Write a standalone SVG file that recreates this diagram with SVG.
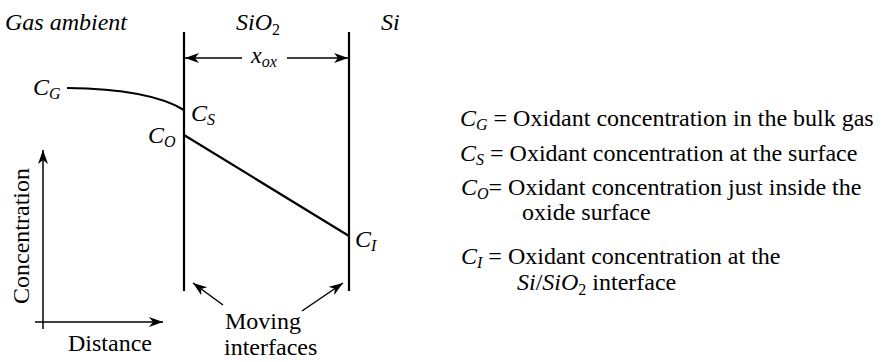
<svg xmlns="http://www.w3.org/2000/svg" width="891" height="362" viewBox="0 0 891 362">
<style>
text{font-family:"Liberation Serif","Times New Roman",serif;font-size:24px;fill:#000}
.i{font-style:italic}
.sub{font-size:16px}
.thick{stroke:#000;stroke-width:2.2;fill:none}
.thin{stroke:#000;stroke-width:1.5;fill:none}
</style>
<defs>
<marker id="ah" markerUnits="userSpaceOnUse" markerWidth="15" markerHeight="11" refX="14" refY="5" orient="auto">
<path d="M0,0 L14,5 L0,10 L4,5 z" fill="#000"/>
</marker>
</defs>
<rect width="891" height="362" fill="#fff"/>

<g id="labels-top">
<text class="i" x="5" y="30">Gas ambient</text>
<text x="236" y="30"><tspan class="i">SiO</tspan><tspan class="sub" dy="5">2</tspan></text>
<text class="i" x="381" y="30">Si</text>
</g>

<g id="interface-left"><line class="thick" x1="184" y1="32" x2="184" y2="291"/></g>
<g id="interface-right"><line class="thick" x1="349" y1="32" x2="349" y2="291"/></g>

<g id="profile">
<path class="thick" d="M67,88 Q150,89 184,110"/>
<line class="thick" x1="184" y1="135" x2="349" y2="236"/>
</g>

<g id="point-labels">
<text x="33" y="95"><tspan class="i">C</tspan><tspan class="i sub" dy="4">G</tspan></text>
<text x="191" y="121"><tspan class="i">C</tspan><tspan class="i sub" dy="4">S</tspan></text>
<text x="148" y="143"><tspan class="i">C</tspan><tspan class="i sub" dy="4">O</tspan></text>
<text x="355" y="247"><tspan class="i">C</tspan><tspan class="i sub" dy="4">I</tspan></text>
</g>

<g id="xox-label">
<text x="251" y="63"><tspan class="i">x</tspan><tspan class="i sub" dy="4">ox</tspan></text>
</g>

<g id="axes">
<text x="0" y="0" text-anchor="middle" transform="translate(29,236) rotate(-90)">Concentration</text>
<text x="68" y="351">Distance</text>
</g>

<g id="moving-label">
<text x="225" y="329">Moving</text>
<text x="224" y="355">interfaces</text>
</g>

<g id="connectors">
<line class="thin" x1="242" y1="58" x2="185" y2="58" marker-end="url(#ah)"/>
<line class="thin" x1="287" y1="58" x2="348" y2="58" marker-end="url(#ah)"/>
<line class="thin" x1="43" y1="329" x2="43" y2="150" marker-end="url(#ah)"/>
<line class="thin" x1="35" y1="322" x2="163" y2="322" marker-end="url(#ah)"/>
<line class="thin" x1="223" y1="305" x2="193" y2="283" marker-end="url(#ah)"/>
<line class="thin" x1="302" y1="311" x2="343" y2="283" marker-end="url(#ah)"/>
</g>

<g id="legend">
<g id="leg-cg"><text x="460" y="126"><tspan class="i">C</tspan><tspan class="i sub" dy="4">G</tspan><tspan dy="-4"> = Oxidant concentration in the bulk gas</tspan></text></g>
<g id="leg-cs"><text x="460" y="161"><tspan class="i">C</tspan><tspan class="i sub" dy="4">S</tspan><tspan dy="-4"> = Oxidant concentration at the surface</tspan></text></g>
<g id="leg-co"><text x="461" y="195"><tspan class="i">C</tspan><tspan class="i sub" dy="4">O</tspan><tspan dy="-4">= Oxidant concentration just inside the</tspan></text>
<text x="522" y="220">oxide surface</text></g>
<g id="leg-ci"><text x="461" y="264"><tspan class="i">C</tspan><tspan class="i sub" dy="4">I</tspan><tspan dy="-4"> = Oxidant concentration at the</tspan></text>
<text x="517" y="290"><tspan class="i">Si</tspan><tspan>/</tspan><tspan class="i">SiO</tspan><tspan class="sub" dy="5">2</tspan><tspan dy="-5"> interface</tspan></text></g>
</g>
</svg>
